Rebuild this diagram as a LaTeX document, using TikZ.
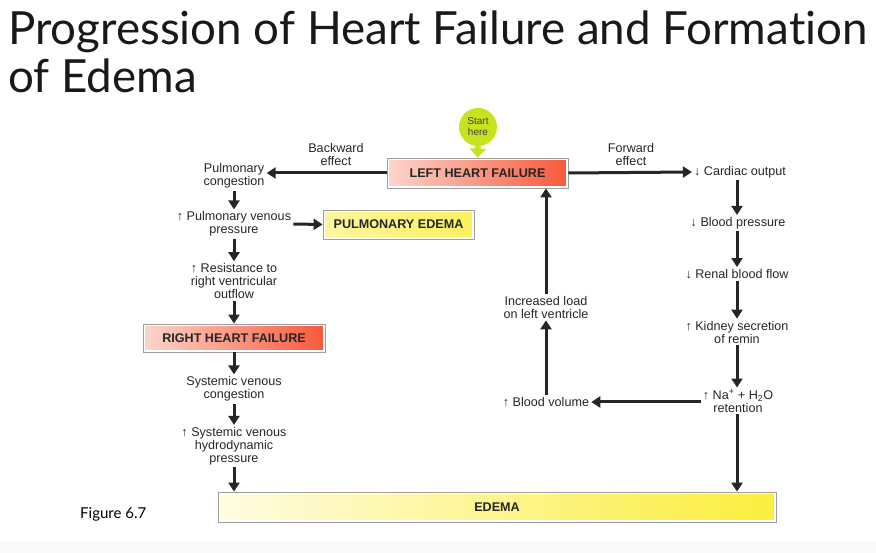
\documentclass[tikz,border=0pt]{standalone}
\usepackage{fontspec}
\setmainfont{Liberation Sans}
\newfontfamily\titlefont[Ligatures=NoCommon]{Lato}
\usetikzlibrary{arrows.meta,positioning}

\definecolor{pinkstart}{HTML}{FCD6CC}
\definecolor{redend}{HTML}{F8583A}
\definecolor{paleyellow}{HTML}{FFFCE2}
\definecolor{deepyellow}{HTML}{FBEE3C}
\definecolor{startgreen}{HTML}{C8E21E}

\tikzset{
  lbl/.style={align=center, inner sep=2pt, font=\fontsize{12.6}{13}\selectfont, text=black!85},
  arr/.style={line width=3pt, black!85, -{Triangle[length=9pt,width=11pt]}},
  gradbox/.style 2 args={draw=gray!75, line width=0.8pt, fill=white,
    font=\bfseries\fontsize{12.6}{14}\selectfont, text=black!85,
    path picture={\shade[left color=#1, right color=#2]
      ([shift={(2.2pt,-2.2pt)}]path picture bounding box.north west) rectangle
      ([shift={(-2.2pt,2.2pt)}]path picture bounding box.south east);}},
}

\begin{document}
\begin{tikzpicture}[x=1pt,y=-1pt]
  \useasboundingbox (0,0) rectangle (876,553);
  \fill[gray!5] (0,541) rectangle (876,553);

  % title
  \node[anchor=base west, inner sep=0pt, font=\titlefont\fontsize{45.7}{50}\selectfont, text=black!90] (title1) at (8,45) {Progression of Heart Failure and Formation};
  \node[anchor=base west, inner sep=0pt, font=\titlefont\fontsize{45.7}{50}\selectfont, text=black!90] (title2) at (8,93) {of Edema};
  \node[anchor=base west, inner sep=0pt, font=\titlefont\fontsize{15}{18}\selectfont] (fig) at (80,518) {Figure 6.7};

  % boxes
  \node[gradbox={pinkstart}{redend}, minimum width=181pt, minimum height=30pt] (lhf) at (477.5,173) {LEFT HEART FAILURE};
  \node[gradbox={paleyellow!60!deepyellow}{deepyellow!80!paleyellow}, minimum width=151pt, minimum height=29pt] (pe) at (398.5,224.5) {PULMONARY EDEMA};
  \node[gradbox={pinkstart}{redend}, minimum width=182pt, minimum height=28pt] (rhf) at (234,338) {RIGHT HEART FAILURE};
  \node[gradbox={paleyellow}{deepyellow}, minimum width=558pt, minimum height=30pt] (edema) at (497,507) {EDEMA};

  % start marker
  \node[circle, fill=startgreen, minimum size=38pt, inner sep=0pt, align=center,
    font=\fontsize{10}{11}\selectfont, text=black!75] (start) at (478,127) {Start\\here};
  \draw[startgreen, line width=6pt, -{Triangle[length=9pt,width=16pt]}] (start.south) -- (lhf.north);

  % backward side
  \node[lbl] (back) at (336,154) {Backward\\effect};
  \node[lbl] (pc) at (234,176) {Pulmonary\\congestion};
  \node[lbl] (pvp) at (234,224) {↑ Pulmonary venous\\pressure};
  \node[lbl] (res) at (234,281) {↑ Resistance to\\right ventricular\\outflow};
  \node[lbl] (svc) at (234,389) {Systemic venous\\congestion};
  \node[lbl] (svh) at (234,446) {↑ Systemic venous\\hydrodynamic\\pressure};

  % forward side
  \node[lbl] (fwd) at (631,154) {Forward\\effect};
  \node[lbl] (co) at (740,172) {↓ Cardiac output};
  \node[lbl] (bp) at (738,223) {↓ Blood pressure};
  \node[lbl] (rbf) at (737,274) {↓ Renal blood flow};
  \node[lbl] (kid) at (737,332) {↑ Kidney secretion\\of remin};
  \node[lbl] (na) at (738,401) {↑ Na\textsuperscript{+} + H\textsubscript{2}O\\retention};
  \node[lbl] (bv) at (546,402) {↑ Blood volume};
  \node[lbl] (load) at (546,307) {Increased load\\on left ventricle};

  % connectors
  \draw[arr] (lhf.west) -- (pc.east |- lhf.west);
  \draw[arr] (pc) -- (pvp);
  \draw[arr] (pvp.east) -- (pe.west);
  \draw[arr] (pvp) -- (res);
  \draw[arr] (res) -- (rhf);
  \draw[arr] (rhf) -- (svc);
  \draw[arr] (svc) -- (svh);
  \draw[arr] (svh.south) -- (svh.south |- edema.north);

  \draw[arr] (lhf.east) -- (co.west);
  \draw[arr] (co.south -| rbf) -- (bp.north -| rbf);
  \draw[arr] (bp.south -| rbf) -- (rbf.north);
  \draw[arr] (rbf) -- (kid);
  \draw[arr] (kid) -- (na.north -| kid);
  \draw[arr] (na.south -| kid) -- (kid |- edema.north);
  \draw[arr] (na.west |- bv.east) -- (bv.east);
  \draw[arr] (bv) -- (load);
  \draw[arr] (load.north) -- (load.north |- lhf.south);
\end{tikzpicture}
\end{document}
